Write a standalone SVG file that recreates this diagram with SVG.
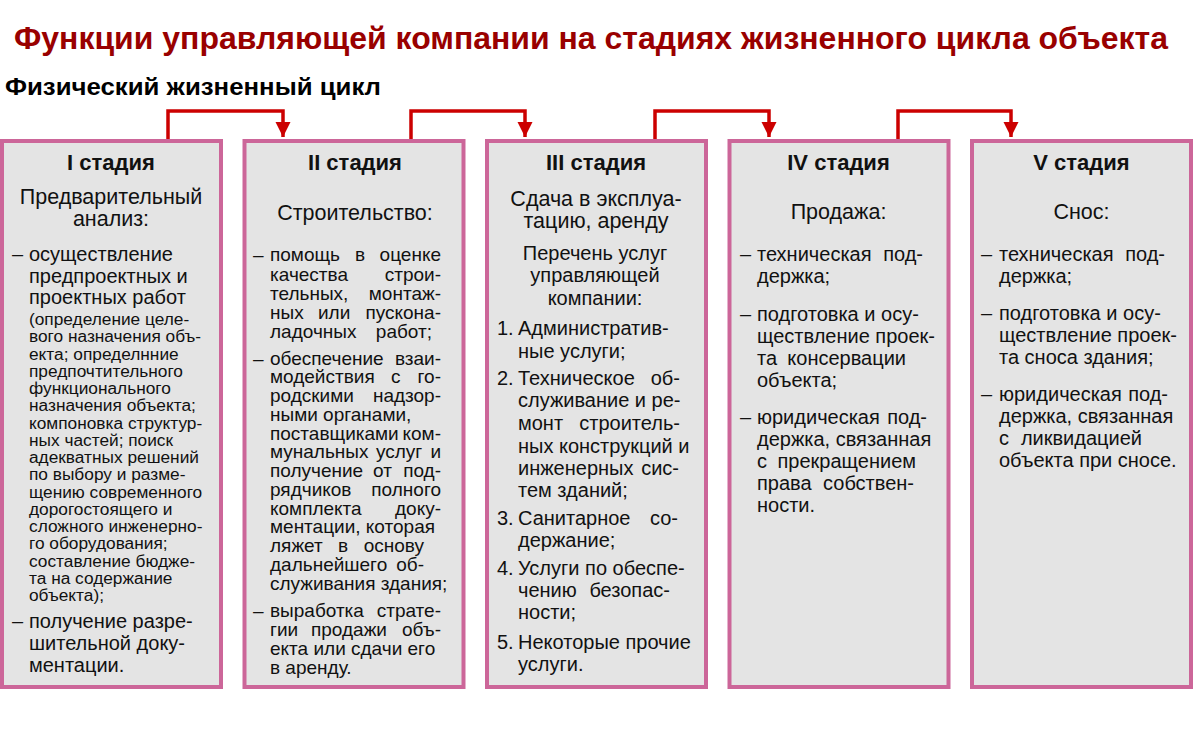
<svg xmlns="http://www.w3.org/2000/svg" width="1197" height="741" viewBox="0 0 1197 741">
<defs>
<style>
text{font-family:"Liberation Sans",Arial,sans-serif;fill:#111;}
.title{font-size:31px;font-weight:bold;fill:#990000;}
.sub{font-size:23px;font-weight:bold;fill:#000;}
.hd{font-size:22px;font-weight:bold;text-anchor:middle;}
.sh{font-size:21.5px;text-anchor:middle;}
.m{font-size:20px;}
.n{font-size:19px;}
.c{font-size:20px;text-anchor:middle;}
.s{font-size:17.3px;}
.e{text-anchor:end;}
.box{fill:#e4e4e4;stroke:#cc6699;stroke-width:4;}
.conn{fill:none;stroke:#cc0000;stroke-width:3.5;}
</style>
<marker id="ah" viewBox="0 0 10 10" refX="10" refY="5" markerWidth="4.4" markerHeight="4.8" markerUnits="strokeWidth" orient="auto">
<path d="M0,0 L10,5 L0,10 z" fill="#cc0000"/>
</marker>
</defs>
<rect width="1197" height="741" fill="#fff"/>
<text class="title" x="14" y="49" textLength="1154" lengthAdjust="spacingAndGlyphs">Функции управляющей компании на стадиях жизненного цикла объекта</text>
<text class="sub" x="5" y="95" textLength="376" lengthAdjust="spacingAndGlyphs">Физический жизненный цикл</text>

<g id="connectors">
<path class="conn" d="M168,139 V111 H283 V137" marker-end="url(#ah)"/>
<path class="conn" d="M411,139 V111 H525 V137" marker-end="url(#ah)"/>
<path class="conn" d="M655,139 V111 H769 V137" marker-end="url(#ah)"/>
<path class="conn" d="M898,139 V111 H1011 V137" marker-end="url(#ah)"/>
</g>

<g id="stage1">
<rect class="box" x="2" y="141" width="219" height="546"/>
<text class="hd" x="111" y="170">I стадия</text>
<text class="sh" x="111" y="204">Предварительный</text>
<text class="sh" x="111" y="226">анализ:</text>
<text class="m" x="12" y="261">–</text>
<text class="m" x="29" y="261">осуществление</text>
<text class="m" x="29" y="283">предпроектных и</text>
<text class="m" x="29" y="304">проектных работ</text>
<text class="s" x="29" y="325">(определение целе-</text>
<text class="s" x="29" y="342.25">вого назначения объ-</text>
<text class="s" x="29" y="359.5">екта; определнние</text>
<text class="s" x="29" y="376.75">предпочтительного</text>
<text class="s" x="29" y="394">функционального</text>
<text class="s" x="29" y="411.25">назначения объекта;</text>
<text class="s" x="29" y="428.5">компоновка структур-</text>
<text class="s" x="29" y="445.75">ных частей; поиск</text>
<text class="s" x="29" y="463">адекватных решений</text>
<text class="s" x="29" y="480.25">по выбору и разме-</text>
<text class="s" x="29" y="497.5">щению современного</text>
<text class="s" x="29" y="514.75">дорогостоящего и</text>
<text class="s" x="29" y="532">сложного инженерно-</text>
<text class="s" x="29" y="549.25">го оборудования;</text>
<text class="s" x="29" y="566.5">составление бюдже-</text>
<text class="s" x="29" y="583.75">та на содержание</text>
<text class="s" x="29" y="601">объекта);</text>
<text class="m" x="12" y="628">–</text>
<text class="m" x="29" y="628">получение разре-</text>
<text class="m" x="29" y="650">шительной доку-</text>
<text class="m" x="29" y="672">ментации.</text>
</g>

<g id="stage2">
<rect class="box" x="244.5" y="141" width="219" height="546"/>
<text class="hd" x="355" y="170">II стадия</text>
<text class="sh" x="355" y="220">Строительство:</text>
<text class="n" x="253" y="261">–</text>
<text class="n" y="261"><tspan x="270">помощь</tspan><tspan x="355">в</tspan><tspan x="441" class="e">оценке</tspan></text>
<text class="n" y="280.5"><tspan x="270">качества</tspan><tspan x="441" class="e">строи-</tspan></text>
<text class="n" y="300"><tspan x="270">тельных,</tspan><tspan x="441" class="e">монтаж-</tspan></text>
<text class="n" y="319"><tspan x="270">ных</tspan><tspan x="318">или</tspan><tspan x="441" class="e">пускона-</tspan></text>
<text class="n" y="338"><tspan x="270">ладочных</tspan><tspan x="432" class="e">работ;</tspan></text>
<text class="n" x="253" y="364.5">–</text>
<text class="n" y="364.5"><tspan x="270">обеспечение</tspan><tspan x="441" class="e">взаи-</tspan></text>
<text class="n" y="383.3"><tspan x="270">модействия</tspan><tspan x="391">с</tspan><tspan x="441" class="e">го-</tspan></text>
<text class="n" y="402"><tspan x="270">родскими</tspan><tspan x="441" class="e">надзор-</tspan></text>
<text class="n" x="270" y="420.8">ными  органами,</text>
<text class="n" y="439.5"><tspan x="270">поставщиками</tspan><tspan x="441" class="e">ком-</tspan></text>
<text class="n" y="458.3"><tspan x="270">мунальных</tspan><tspan x="376">услуг</tspan><tspan x="441" class="e">и</tspan></text>
<text class="n" y="477"><tspan x="270">получение</tspan><tspan x="373">от</tspan><tspan x="441" class="e">под-</tspan></text>
<text class="n" y="495.8"><tspan x="270">рядчиков</tspan><tspan x="441" class="e">полного</tspan></text>
<text class="n" y="514.5"><tspan x="270">комплекта</tspan><tspan x="441" class="e">доку-</tspan></text>
<text class="n" x="270" y="533.3">ментации, которая</text>
<text class="n" y="552"><tspan x="270">ляжет</tspan><tspan x="338">в</tspan><tspan x="424" class="e">основу</tspan></text>
<text class="n" y="570.8"><tspan x="270">дальнейшего</tspan><tspan x="424" class="e">об-</tspan></text>
<text class="n" x="270" y="589.5">служивания здания;</text>
<text class="n" x="253" y="616.5">–</text>
<text class="n" y="616.5"><tspan x="270">выработка</tspan><tspan x="441" class="e">страте-</tspan></text>
<text class="n" y="636"><tspan x="270">гии</tspan><tspan x="311">продажи</tspan><tspan x="441" class="e">объ-</tspan></text>
<text class="n" x="270" y="655">екта или сдачи его</text>
<text class="n" x="270" y="674">в аренду.</text>
</g>

<g id="stage3">
<rect class="box" x="487" y="141" width="219" height="546"/>
<text class="hd" x="596" y="170">III стадия</text>
<text class="sh" x="596" y="206">Сдача в эксплуа-</text>
<text class="sh" x="596" y="228">тацию, аренду</text>
<text class="c" x="595" y="260">Перечень услуг</text>
<text class="c" x="595" y="282">управляющей</text>
<text class="c" x="595" y="305">компании:</text>
<text class="m" x="497" y="335">1.</text>
<text class="m" x="518" y="335">Административ-</text>
<text class="m" x="518" y="358">ные услуги;</text>
<text class="m" x="497" y="385">2.</text>
<text class="m" y="385"><tspan x="518">Техническое</tspan><tspan x="680" class="e">об-</tspan></text>
<text class="m" x="518" y="407">служивание и ре-</text>
<text class="m" y="430"><tspan x="518">монт</tspan><tspan x="680" class="e">строитель-</tspan></text>
<text class="m" x="518" y="453">ных конструкций и</text>
<text class="m" y="475"><tspan x="518">инженерных</tspan><tspan x="679" class="e">сис-</tspan></text>
<text class="m" x="518" y="497">тем зданий;</text>
<text class="m" x="497" y="525">3.</text>
<text class="m" y="525"><tspan x="518">Санитарное</tspan><tspan x="678" class="e">со-</tspan></text>
<text class="m" x="518" y="547">держание;</text>
<text class="m" x="497" y="575">4.</text>
<text class="m" x="518" y="575">Услуги по обеспе-</text>
<text class="m" y="597"><tspan x="518">чению</tspan><tspan x="670" class="e">безопас-</tspan></text>
<text class="m" x="518" y="619">ности;</text>
<text class="m" x="497" y="649">5.</text>
<text class="m" x="518" y="649">Некоторые прочие</text>
<text class="m" x="518" y="671">услуги.</text>
</g>

<g id="stage4">
<rect class="box" x="729.5" y="141" width="219" height="546"/>
<text class="hd" x="838.5" y="170">IV стадия</text>
<text class="sh" x="838.5" y="219">Продажа:</text>
<text class="m" x="740" y="261">–</text>
<text class="m" y="261"><tspan x="757">техническая</tspan><tspan x="923" class="e">под-</tspan></text>
<text class="m" x="757" y="283">держка;</text>
<text class="m" x="740" y="321">–</text>
<text class="m" x="757" y="321">подготовка и осу-</text>
<text class="m" x="757" y="343">ществление проек-</text>
<text class="m" y="365"><tspan x="757">та</tspan><tspan x="906" class="e">консервации</tspan></text>
<text class="m" x="757" y="387">объекта;</text>
<text class="m" x="740" y="424">–</text>
<text class="m" y="424"><tspan x="757">юридическая</tspan><tspan x="927" class="e">под-</tspan></text>
<text class="m" x="757" y="446">держка, связанная</text>
<text class="m" y="468"><tspan x="757">с</tspan><tspan x="916" class="e">прекращением</tspan></text>
<text class="m" y="490"><tspan x="757">права</tspan><tspan x="914" class="e">собствен-</tspan></text>
<text class="m" x="757" y="512">ности.</text>
</g>

<g id="stage5">
<rect class="box" x="972" y="141" width="219" height="546"/>
<text class="hd" x="1081.5" y="170">V стадия</text>
<text class="sh" x="1081.5" y="219">Снос:</text>
<text class="m" x="981" y="261">–</text>
<text class="m" y="261"><tspan x="999">техническая</tspan><tspan x="1165" class="e">под-</tspan></text>
<text class="m" x="999" y="283">держка;</text>
<text class="m" x="981" y="320">–</text>
<text class="m" x="999" y="320">подготовка и осу-</text>
<text class="m" x="999" y="342">ществление проек-</text>
<text class="m" x="999" y="364">та сноса здания;</text>
<text class="m" x="981" y="401">–</text>
<text class="m" y="401"><tspan x="999">юридическая</tspan><tspan x="1168" class="e">под-</tspan></text>
<text class="m" x="999" y="423">держка, связанная</text>
<text class="m" y="445"><tspan x="999">с</tspan><tspan x="1142" class="e">ликвидацией</tspan></text>
<text class="m" x="999" y="467">объекта при сносе.</text>
</g>
</svg>
